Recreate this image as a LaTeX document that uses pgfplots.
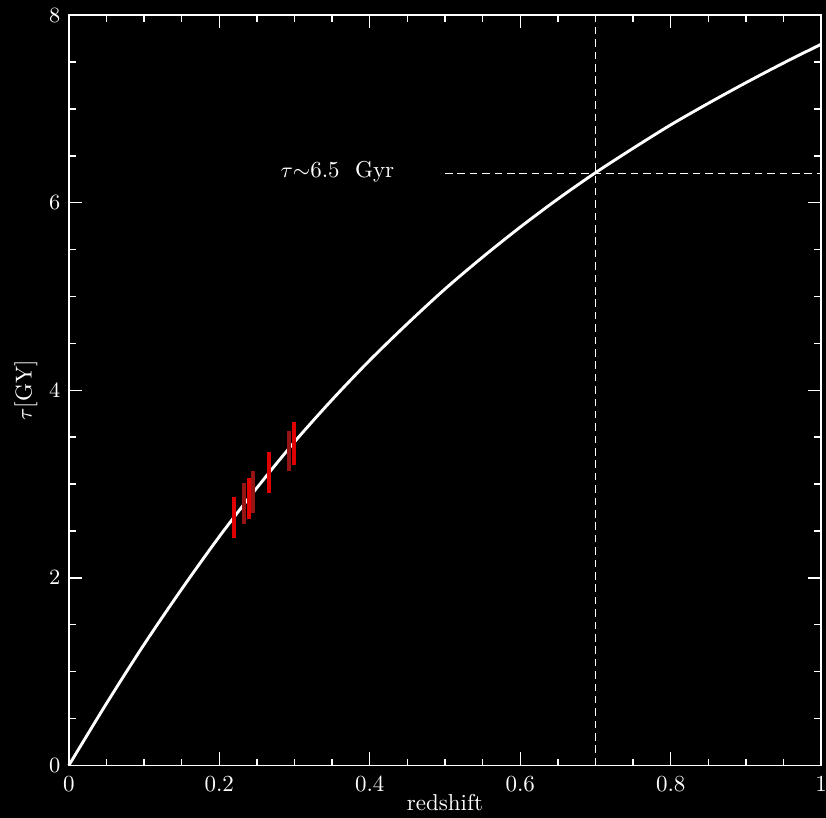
\documentclass[border=0pt]{standalone}
\usepackage{pgfplots}
\pgfplotsset{compat=1.18}
\definecolor{barred}{RGB}{225,0,0}
\definecolor{darkred}{RGB}{150,20,20}
\begin{document}
\begin{tikzpicture}
\path[use as bounding box, fill=black] (-1.0cm,-0.76cm) rectangle (11.0cm,11.12cm);
\begin{axis}[
  scale only axis,
  width=10.93cm, height=10.90cm,
  xmin=0, xmax=1, ymin=0, ymax=8,
  axis line style={white, line width=0.6pt},
  tick style={white, line width=0.6pt},
  major tick length=0.19cm, minor tick length=0.1cm,
  xtick={0,0.2,0.4,0.6,0.8,1}, xticklabels={0,0.2,0.4,0.6,0.8,1},
  ytick={0,2,4,6,8},
  minor x tick num=3, minor y tick num=3,
  tick align=inside,
  xtick pos=both, ytick pos=both,
  ticklabel style={white, font=\fontsize{9.5}{11}\selectfont},
  xticklabel style={yshift=-1pt},
  label style={white, font=\fontsize{9.5}{11}\selectfont},
  xlabel={redshift},
  ylabel={$\tau$[GY]},
  xlabel style={yshift=6pt},
  ylabel style={yshift=-2pt},
  clip=false,
]
\addplot[white, line width=1.2pt, smooth] coordinates {
(0,0) (0.05,0.66) (0.1,1.29) (0.15,1.88) (0.2,2.44) (0.25,2.96) (0.3,3.45)
(0.35,3.90) (0.4,4.32) (0.45,4.71) (0.5,5.08) (0.55,5.42) (0.6,5.74)
(0.65,6.04) (0.7,6.32) (0.75,6.58) (0.8,6.83) (0.85,7.06) (0.9,7.28)
(0.95,7.49) (1.0,7.69)};
\addplot[white, line width=0.6pt, dash pattern=on 0.11cm off 0.07cm] coordinates {(0.7,0) (0.7,8)};
\addplot[white, line width=0.6pt, dash pattern=on 0.11cm off 0.07cm] coordinates {(0.5,6.31) (1.0,6.31)};
\addplot[darkred, line width=1.7pt] coordinates {(0.233,2.57) (0.233,3.01)};
\addplot[darkred, line width=1.7pt] coordinates {(0.2926,3.14) (0.2926,3.57)};
\addplot[barred, line width=1.7pt] coordinates {(0.219,2.43) (0.219,2.86)};
\addplot[barred, line width=1.7pt] coordinates {(0.239,2.63) (0.239,3.07)};
\addplot[darkred, line width=1.7pt] coordinates {(0.245,2.69) (0.245,3.14)};
\addplot[barred, line width=1.7pt] coordinates {(0.266,2.90) (0.266,3.34)};
\addplot[barred, line width=1.7pt] coordinates {(0.2988,3.20) (0.2988,3.66)};
\node[white, font=\fontsize{9.5}{11}\selectfont] at (axis cs:0.357,6.33) {$\tau$$\sim$6.5~~Gyr};
\end{axis}
\end{tikzpicture}
\end{document}
